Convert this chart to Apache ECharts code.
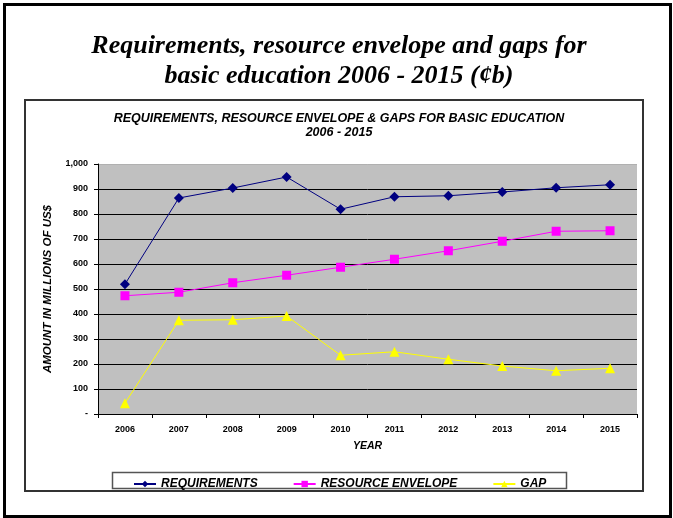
<!DOCTYPE html>
<html>
<head>
<meta charset="utf-8">
<script src="https://cdn.jsdelivr.net/npm/echarts@6/dist/echarts.min.js"></script>
<style>
html,body{margin:0;padding:0;background:#fff;}
#c{width:673px;height:518px;}
</style>
</head>
<body>
<div id="c"></div>
<script>
var years = ['2006','2007','2008','2009','2010','2011','2012','2013','2014','2015'];
var requirements = [519, 864, 904, 948, 819, 869, 873, 888, 905, 917];
var resourceEnvelope = [473, 487, 525, 555, 587, 619, 653, 691, 731, 733];
var gap = [43, 375, 377, 392, 235, 249, 219, 192, 173, 183];
var seriesNames = ['REQUIREMENTS', 'RESOURCE ENVELOPE', 'GAP'];
var mainTitle = 'Requirements, resource envelope and gaps for\nbasic education 2006 - 2015 (\u00a2b)';
var chartTitle = 'REQUIREMENTS, RESOURCE ENVELOPE & GAPS FOR BASIC EDUCATION\n2006 - 2015';
var yAxisName = 'AMOUNT IN MILLIONS OF US$';
var xAxisName = 'YEAR';

var SANS = '"Liberation Sans", Arial, sans-serif';
var SERIF = '"Liberation Serif", "Times New Roman", serif';

var chart = echarts.init(document.getElementById('c'), null, {renderer: 'canvas'});
var splitColors = [];
for (var i = 0; i < 11; i++) splitColors.push(i === 10 ? '#b0b0b0' : '#000');

chart.setOption({
  animation: false,
  backgroundColor: '#fff',
  title: [{
    text: mainTitle,
    left: 334, top: 26, textAlign: 'center',
    textStyle: {fontFamily: SERIF, fontWeight: 'bold', fontStyle: 'italic', fontSize: 26, lineHeight: 30, color: '#000'}
  }, {
    text: chartTitle,
    left: 334, top: 107, textAlign: 'center',
    textStyle: {fontFamily: SANS, fontWeight: 'bold', fontStyle: 'italic', fontSize: 12.5, lineHeight: 14, color: '#000'}
  }],
  graphic: [
    {type: 'rect', shape: {x: 4.5, y: 4.5, width: 666, height: 512}, style: {fill: 'none', stroke: '#000', lineWidth: 3}, z: -1},
    {type: 'rect', shape: {x: 25, y: 100, width: 618, height: 391}, style: {fill: 'none', stroke: '#333', lineWidth: 2}, z: -1},
    {type: 'rect', shape: {x: 112.5, y: 472.5, width: 454, height: 16}, style: {fill: '#fff', stroke: '#555', lineWidth: 1.5}, z: -1}
  ],
  legend: {
    left: 128, top: 473,
    itemWidth: 22, itemHeight: 8, itemGap: 35,
    textStyle: {fontFamily: SANS, fontWeight: 'bold', fontStyle: 'italic', fontSize: 12, color: '#000'},
    data: seriesNames
  },
  grid: {left: 98, right: 36, top: 164, bottom: 104, backgroundColor: '#c0c0c0', show: true, borderWidth: 0},
  xAxis: {
    type: 'category', data: years, boundaryGap: true,
    name: xAxisName, nameLocation: 'middle', nameGap: 27,
    nameTextStyle: {fontFamily: SANS, fontWeight: 'bold', fontStyle: 'italic', fontSize: 10.5, color: '#000'},
    axisLine: {lineStyle: {color: '#000', width: 1}},
    axisTick: {show: true, inside: false, length: 4, alignWithLabel: false, lineStyle: {color: '#000'}},
    axisLabel: {fontFamily: SANS, fontWeight: 'bold', fontSize: 9, color: '#000', margin: 11}
  },
  yAxis: {
    type: 'value', min: 0, max: 1000, interval: 100,
    name: yAxisName, nameLocation: 'middle', nameGap: 44,
    nameTextStyle: {fontFamily: SANS, fontWeight: 'bold', fontStyle: 'italic', fontSize: 11.5, color: '#000'},
    axisLine: {show: true, lineStyle: {color: '#000', width: 1}},
    axisTick: {show: true, length: 4, lineStyle: {color: '#000'}},
    axisLabel: {fontFamily: SANS, fontWeight: 'bold', fontSize: 9, color: '#000', margin: 10,
      formatter: function (v) { return v === 0 ? '-' : v.toString().replace(/\B(?=(\d{3})+(?!\d))/g, ','); }},
    splitLine: {show: true, lineStyle: {color: splitColors, width: 1}}
  },
  series: [
    {name: seriesNames[0], type: 'line', data: requirements, symbol: 'diamond', symbolSize: 10,
      itemStyle: {color: '#000080'}, lineStyle: {color: '#000080', width: 1}},
    {name: seriesNames[1], type: 'line', data: resourceEnvelope, symbol: 'rect', symbolSize: 9,
      itemStyle: {color: '#ff00ff'}, lineStyle: {color: '#ff00ff', width: 1}},
    {name: seriesNames[2], type: 'line', data: gap, symbol: 'triangle', symbolSize: 10,
      itemStyle: {color: '#ffff00'}, lineStyle: {color: '#ffff00', width: 1}}
  ]
});
</script>
</body>
</html>
